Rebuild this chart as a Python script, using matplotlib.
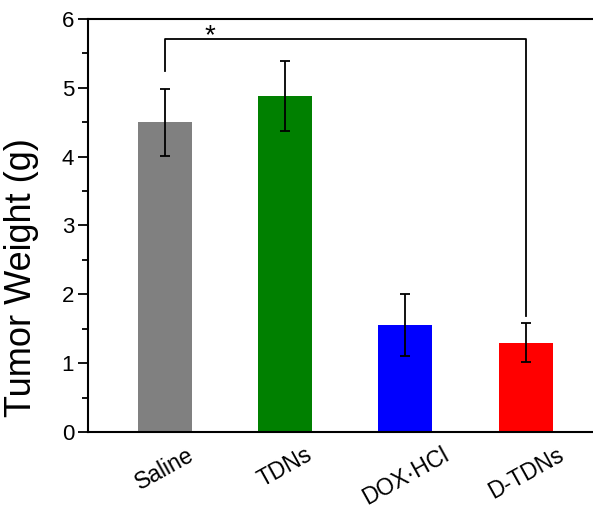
import numpy as np
import matplotlib
matplotlib.use("Agg")
from matplotlib import pyplot as plt
from matplotlib.ticker import MultipleLocator

plt.rcParams['font.family'] = ['Liberation Sans', 'DejaVu Sans']

groups = ["Saline", "TDNs", "DOX·HCl", "D-TDNs"]
weights = [4.50, 4.88, 1.55, 1.30]
errors = [0.49, 0.51, 0.45, 0.29]
colors = ["#808080", "#008000", "#0000ff", "#ff0000"]

fig = plt.figure(figsize=(5.93, 5.09), dpi=100)
ax = fig.add_axes([0.1484, 0.1513, 0.8516, 0.8114])

x = np.arange(1, len(groups) + 1)
ax.bar(x, weights, width=0.45, color=colors, zorder=2)
ax.errorbar(x, weights, yerr=errors, fmt="none", ecolor="black",
            elinewidth=1.3, capsize=3.3, capthick=1.3, zorder=3)

# significance bracket Saline vs D-TDNs
y_br = 5.71
ax.plot([x[0], x[0], x[3], x[3]], [5.24, y_br, y_br, 1.69],
        color="black", lw=1.3, zorder=3)
ax.text(1.37, 5.65, "*", ha="center", va="baseline", fontsize=20)

ax.set_xlim(0.36, 4.56)
ax.set_ylim(0, 6)
ax.yaxis.set_major_locator(MultipleLocator(1))
ax.yaxis.set_minor_locator(MultipleLocator(0.5))
ax.set_xticks(x)
ax.set_xticklabels(groups, rotation=29, ha="center", va="top", fontsize=16.5)
ax.tick_params(axis="x", length=0, pad=8)
ax.tick_params(axis="y", which="major", length=7, width=1.3, labelsize=16,
               direction="out", pad=3)
ax.tick_params(axis="y", which="minor", length=4, width=1.3, direction="out")
for side in ["left", "bottom", "top"]:
    ax.spines[side].set_linewidth(1.5)
ax.spines["right"].set_visible(False)
ax.set_ylabel("Tumor Weight (g)", fontsize=26)
ax.yaxis.set_label_coords(-0.097, 0.375)

fig.savefig("out.png", dpi=100)
